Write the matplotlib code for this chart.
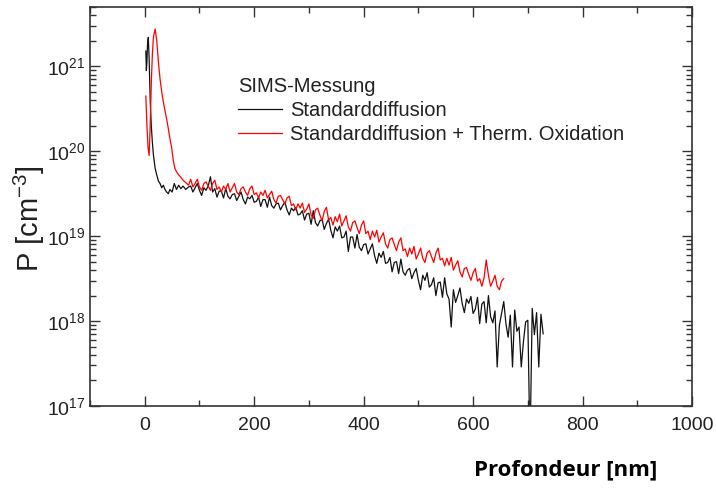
import numpy as np
import matplotlib
matplotlib.use('Agg')
import matplotlib.pyplot as plt
from matplotlib.ticker import MultipleLocator, LogLocator, NullFormatter

plt.rcParams['font.family'] = ['Liberation Sans', 'DejaVu Sans']

# Standarddiffusion (black): depth [nm] and log10(P [cm^-3])
std_depth = [2, 3, 4, 5, 6.5, 8, 10, 12, 14, 16, 19, 22, 25, 28, 31, 34, 37, 40, 43, 46,
             50, 54, 58, 62, 66, 70, 75, 80,
             84, 88, 92, 96, 100, 104, 108, 112, 116, 120, 124, 128, 132, 136, 140, 144,
             148, 152, 156, 160, 164, 168, 172, 176, 180, 184, 188, 192, 196, 200, 204,
             208, 212, 216, 220, 224, 228, 232, 236, 240, 244, 248, 252, 256, 260, 264,
             268, 272, 276, 280, 284, 288, 292, 296, 300, 304, 308, 312, 316, 320, 324,
             328, 332, 336, 340, 344, 348, 352, 356, 360, 364, 368, 372, 376, 380, 384,
             388, 392, 396, 400, 404, 408, 412, 416, 420, 424, 428, 432, 436, 440, 444,
             448, 452, 456, 460, 464, 468, 472, 476, 480, 484, 488, 492, 496, 500, 504,
             508, 512, 516, 520, 524, 528, 532, 536, 540, 544, 548, 552, 556, 560, 564,
             568, 572, 576, 580, 584, 588, 592, 596, 600, 604, 608, 612, 616, 620, 624,
             628, 632, 636, 640, 644, 648, 652, 656, 660, 664, 668, 672, 676, 680, 684,
             688, 692, 696, 700, 704, 708, 712, 716, 720, 724, 728]
std_log = [21.18, 20.95, 21.05, 21.25, 21.34, 21.10, 20.60, 20.30, 20.10, 19.95, 19.80, 19.72,
           19.65, 19.62, 19.57, 19.60, 19.55, 19.52, 19.50, 19.55,
           19.52, 19.62, 19.55, 19.60, 19.56, 19.59, 19.55, 19.58,
           19.59, 19.52, 19.57, 19.62, 19.54, 19.48, 19.57, 19.54, 19.59, 19.70, 19.52, 19.56,
           19.46, 19.53, 19.53, 19.45, 19.56, 19.47, 19.44, 19.49, 19.50, 19.42, 19.47, 19.52,
           19.43, 19.38, 19.46, 19.44, 19.48, 19.40, 19.41, 19.46, 19.35, 19.43, 19.43, 19.34,
           19.46, 19.36, 19.33, 19.38, 19.39, 19.31, 19.36, 19.40, 19.31, 19.25, 19.33, 19.30,
           19.34, 19.25, 19.26, 19.30, 19.19, 19.26, 19.27, 19.14, 19.30, 19.16, 19.12, 19.18,
           19.20, 19.08, 19.15, 19.20, 19.07, 18.98, 19.11, 19.06, 19.12, 18.98, 18.99, 19.06,
           18.82, 18.99, 18.99, 18.86, 19.02, 18.87, 18.83, 18.90, 18.91, 18.79, 18.85, 18.91,
           18.77, 18.68, 18.80, 18.75, 18.82, 18.68, 18.69, 18.75, 18.58, 18.69, 18.70, 18.56,
           18.73, 18.58, 18.54, 18.60, 18.62, 18.50, 18.57, 18.62, 18.48, 18.37, 18.54, 18.48,
           18.57, 18.40, 18.43, 18.51, 18.30, 18.45, 18.46, 18.28, 18.51, 18.32, 18.26, 17.93,
           18.37, 18.22, 18.30, 18.39, 18.21, 18.10, 18.26, 18.21, 18.29, 18.09, 18.14, 18.28,
           17.97, 18.20, 18.23, 17.98, 18.30, 18.05, 17.98, 18.12, 17.46, 17.95, 18.09, 18.23,
           17.97, 17.81, 18.07, 17.46, 18.13, 17.88, 17.93, 17.46, 17.76, 17.99, 18.01, 16.50,
           18.15, 17.84, 18.10, 17.46, 18.08, 17.85]

# Standarddiffusion + Therm. Oxidation (red)
ox_depth = [2, 4, 6, 8, 10, 12, 14, 16, 19, 22, 25, 28, 31, 34, 37, 40, 43, 46, 49, 52, 55,
            58, 61, 65, 70, 75,
            80, 84, 88, 92, 96, 100, 104, 108, 112, 116, 120, 124, 128, 132, 136, 140, 144,
            148, 152, 156, 160, 164, 168, 172, 176, 180, 184, 188, 192, 196, 200, 204, 208,
            212, 216, 220, 224, 228, 232, 236, 240, 244, 248, 252, 256, 260, 264, 268, 272,
            276, 280, 284, 288, 292, 296, 300, 304, 308, 312, 316, 320, 324, 328, 332, 336,
            340, 344, 348, 352, 356, 360, 364, 368, 372, 376, 380, 384, 388, 392, 396, 400,
            404, 408, 412, 416, 420, 424, 428, 432, 436, 440, 444, 448, 452, 456, 460, 464,
            468, 472, 476, 480, 484, 488, 492, 496, 500, 504, 508, 512, 516, 520, 524, 528,
            532, 536, 540, 544, 548, 552, 556, 560, 564, 568, 572, 576, 580, 584, 588, 592,
            596, 600, 604, 608, 612, 616, 620, 624, 628, 632, 636, 640, 644, 648, 652, 656]
ox_log = [20.65, 20.30, 20.05, 19.95, 20.30, 20.80, 21.15, 21.35, 21.44, 21.30, 21.05, 20.85,
          20.70, 20.58, 20.48, 20.38, 20.27, 20.15, 20.05, 19.90, 19.80, 19.76, 19.73, 19.70,
          19.66, 19.63,
          19.60, 19.67, 19.58, 19.62, 19.67, 19.58, 19.54, 19.62, 19.64, 19.59, 19.54, 19.62,
          19.66, 19.55, 19.58, 19.52, 19.59, 19.55, 19.62, 19.52, 19.57, 19.62, 19.52, 19.49,
          19.56, 19.58, 19.52, 19.48, 19.56, 19.59, 19.49, 19.51, 19.45, 19.52, 19.48, 19.54,
          19.45, 19.49, 19.53, 19.43, 19.39, 19.47, 19.48, 19.43, 19.38, 19.45, 19.47, 19.36,
          19.38, 19.31, 19.38, 19.33, 19.39, 19.28, 19.32, 19.38, 19.25, 19.21, 19.31, 19.33,
          19.25, 19.18, 19.29, 19.34, 19.19, 19.22, 19.13, 19.23, 19.17, 19.26, 19.12, 19.18,
          19.24, 19.11, 19.06, 19.16, 19.18, 19.10, 19.03, 19.13, 19.18, 19.03, 19.06, 18.96,
          19.06, 18.99, 19.07, 18.93, 18.99, 19.04, 18.91, 18.86, 18.96, 18.98, 18.90, 18.83,
          18.93, 18.98, 18.83, 18.85, 18.76, 18.86, 18.79, 18.88, 18.73, 18.79, 18.86, 18.74,
          18.69, 18.80, 18.83, 18.76, 18.69, 18.80, 18.86, 18.72, 18.74, 18.65, 18.74, 18.66,
          18.75, 18.60, 18.66, 18.71, 18.58, 18.52, 18.62, 18.63, 18.55, 18.48, 18.57, 18.62,
          18.47, 18.50, 18.41, 18.51, 18.72, 18.54, 18.41, 18.47, 18.54, 18.41, 18.37, 18.47,
          18.50]

std_p = 10.0 ** np.array(std_log)
ox_p = 10.0 ** np.array(ox_log)

fig = plt.figure(figsize=(7.16, 4.88), dpi=100)
ax = fig.add_axes([0.1257, 0.168, 0.8408, 0.8177])

ax.plot(std_depth, std_p, color='#111111', lw=0.9, label='Standarddiffusion')
ax.plot(ox_depth, ox_p, color='#ff0000', lw=0.9, label='Standarddiffusion + Therm. Oxidation')

ax.set_yscale('log')
ax.set_xlim(-100, 1000)
ax.set_ylim(1e17, 5e21)
ax.xaxis.set_major_locator(MultipleLocator(200))
ax.xaxis.set_minor_locator(MultipleLocator(100))
ax.yaxis.set_major_locator(LogLocator(base=10, numticks=10))
ax.yaxis.set_minor_locator(LogLocator(base=10, subs=np.arange(2, 10), numticks=20))
ax.yaxis.set_minor_formatter(NullFormatter())

ax.tick_params(which='both', direction='in', top=True, right=True, colors='#333333',
               labelcolor='#222222', labelsize=14)
ax.tick_params(which='major', length=7, width=1)
ax.tick_params(which='minor', length=4, width=1)
ax.tick_params(axis='x', pad=8)
for s in ax.spines.values():
    s.set_color('#333333')
    s.set_linewidth(1.2)

ax.set_ylabel(r'P [cm$^{\mathdefault{-3}}$]', fontsize=21, color='#222222')
ax.yaxis.set_label_coords(-0.072, 0.47)

fig.text(0.79, 1 - 470 / 488, 'Profondeur [nm]', family=['Open Sans', 'DejaVu Sans'],
         fontweight='bold', fontsize=16, ha='center', va='center', color='black')

leg = ax.legend(title='SIMS-Messung', loc='upper left', bbox_to_anchor=(0.2226, 0.86),
                frameon=False, fontsize=14.5, title_fontsize=14.5, alignment='left',
                handlelength=2.2, handletextpad=0.4, labelspacing=0.25, borderpad=0.2)
for t in leg.get_texts():
    t.set_color('#222222')
leg.get_title().set_color('#222222')

fig.savefig('out.png', dpi=100)
